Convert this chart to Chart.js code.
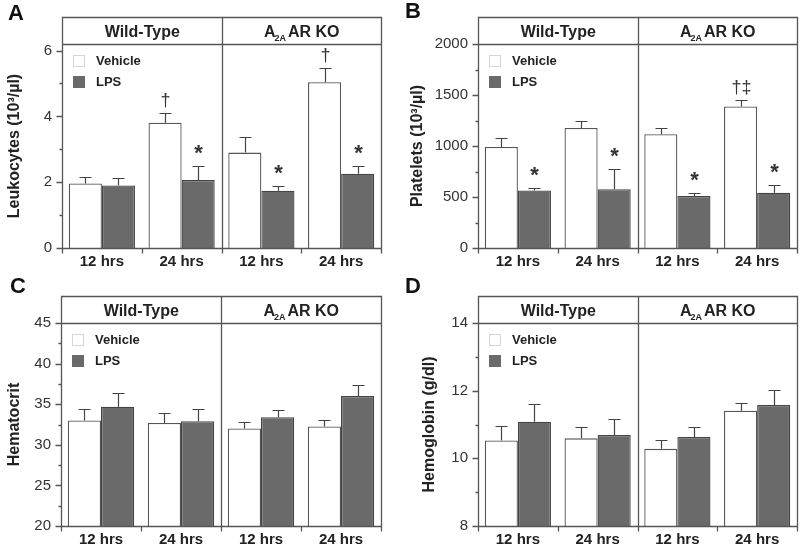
<!DOCTYPE html>
<html>
<head>
<meta charset="utf-8">
<script src="https://cdn.jsdelivr.net/npm/chart.js@4.4.1/dist/chart.umd.min.js"></script>
<style>
  body { margin: 0; background: #fff; }
  #wrap { position: relative; width: 800px; height: 546px; }
  canvas { position: absolute; }
</style>
</head>
<body>
<div id="wrap">
  <canvas id="panelA" width="400" height="273" style="left:0;top:0"></canvas>
  <canvas id="panelB" width="400" height="273" style="left:400px;top:0"></canvas>
  <canvas id="panelC" width="400" height="273" style="left:0;top:273px"></canvas>
  <canvas id="panelD" width="400" height="273" style="left:400px;top:273px"></canvas>
</div>
<script>
const groups = ["12 hrs", "24 hrs", "12 hrs", "24 hrs"];
const seriesNames = ["Vehicle", "LPS"];

// Leukocytes
const leukoVehicle = [1.96, 3.81, 2.90, 5.04];
const leukoVehicleErr = [0.21, 0.30, 0.46, 0.44];
const leukoLps = [1.90, 2.07, 1.74, 2.26];
const leukoLpsErr = [0.24, 0.41, 0.14, 0.24];
const leukoVehicleMarks = ["", "†", "", "†"];
const leukoLpsMarks = ["", "*", "*", "*"];
const leukoTicks = [0, 2, 4, 6];
const leukoMinor = [1, 3, 5];

// Platelets
const pltVehicle = [990, 1177, 1115, 1387];
const pltVehicleErr = [89, 69, 65, 65];
const pltLps = [564, 577, 511, 541];
const pltLpsErr = [29, 200, 30, 75];
const pltVehicleMarks = ["", "", "", "†‡"];
const pltLpsMarks = ["*", "*", "*", "*"];
const pltTicks = [0, 500, 1000, 1500, 2000];
const pltMinor = [250, 750, 1250, 1750];

// Hematocrit
const hctVehicle = [33.0, 32.7, 32.0, 32.25];
const hctVehicleErr = [1.4, 1.2, 0.8, 0.75];
const hctLps = [34.7, 32.9, 33.4, 36.0];
const hctLpsErr = [1.7, 1.5, 0.9, 1.4];
const hctTicks = [20, 25, 30, 35, 40, 45];
const hctMinor = [22.5, 27.5, 32.5, 37.5, 42.5];

// Hemoglobin
const hgbVehicle = [10.53, 10.59, 10.28, 11.41];
const hgbVehicleErr = [0.44, 0.34, 0.25, 0.24];
const hgbLps = [11.08, 10.69, 10.63, 11.58];
const hgbLpsErr = [0.53, 0.47, 0.30, 0.45];
const hgbTicks = [8, 10, 12, 14];
const hgbMinor = [9, 11, 13];

const noMarks = ["", "", "", ""];
const FONT = "'Liberation Sans', Arial, sans-serif";
const LINE = "#555";
const TEXT = "#222";

Chart.defaults.font.family = FONT;

function makePanel(id, cfg) {
    const panelPlugin = {
        id: "panel" + cfg.letter,
        afterDatasetsDraw(chart) {
            const ctx = chart.ctx;
            const y = chart.scales.y;
            const errs = [cfg.vehicleErr, cfg.lpsErr];
            const marks = [cfg.vehicleMarks, cfg.lpsMarks];
            ctx.save();
            ctx.strokeStyle = "#444";
            ctx.lineWidth = 1.2;
            chart.data.datasets.forEach((ds, di) => {
                chart.getDatasetMeta(di).data.forEach((bar, i) => {
                    const top = Math.round(y.getPixelForValue(ds.data[i] + errs[di][i])) + 0.5;
                    const bx = Math.round(bar.x) + 0.5;
                    ctx.beginPath();
                    ctx.moveTo(bx, bar.y);
                    ctx.lineTo(bx, top);
                    ctx.moveTo(bx - 6, top);
                    ctx.lineTo(bx + 6, top);
                    ctx.stroke();
                    const m = marks[di][i];
                    if (m) {
                        const star = m === "*";
                        ctx.font = star ? "bold 22px " + FONT : "18px " + FONT;
                        ctx.fillStyle = "#333";
                        ctx.textAlign = "center";
                        ctx.textBaseline = "alphabetic";
                        const tm = ctx.measureText(m);
                        const center = top - (star ? 17 : 13);
                        const base = center + (tm.actualBoundingBoxAscent - tm.actualBoundingBoxDescent) / 2;
                        ctx.fillText(m, bx, base);
                    }
                });
            });
            ctx.restore();
        },
        afterDraw(chart) {
            const ctx = chart.ctx;
            const a = chart.chartArea;
            const x = chart.scales.x;
            const y = chart.scales.y;
            const L = Math.round(a.left) + 0.5, R = Math.round(a.right) + 0.5;
            const T = Math.round(a.top) + 0.5, B = Math.round(a.bottom) + 0.5;
            const H = cfg.headerTop + 0.5;
            const mid = Math.round(x.getPixelForValue(1.5)) + 0.5;
            ctx.save();
            ctx.strokeStyle = LINE;
            ctx.lineWidth = 1.3;
            ctx.beginPath();
            // frame + header
            ctx.moveTo(L, B); ctx.lineTo(L, H); ctx.lineTo(R, H); ctx.lineTo(R, B);
            ctx.moveTo(L - 4, B); ctx.lineTo(R, B);
            ctx.moveTo(L, T); ctx.lineTo(R, T);
            ctx.moveTo(mid, H); ctx.lineTo(mid, B);
            // x ticks at category boundaries
            for (let i = 0; i <= groups.length; i++) {
                const px = Math.round(x.getPixelForValue(i - 0.5)) + 0.5;
                ctx.moveTo(px, B); ctx.lineTo(px, B + 5);
            }
            // y ticks
            cfg.ticks.forEach(v => {
                const py = Math.round(y.getPixelForValue(v)) + 0.5;
                ctx.moveTo(L, py); ctx.lineTo(L - 6, py);
            });
            cfg.minor.forEach(v => {
                const py = Math.round(y.getPixelForValue(v)) + 0.5;
                ctx.moveTo(L, py); ctx.lineTo(L - 3, py);
            });
            ctx.stroke();

            // header text
            const hy = (cfg.headerTop + a.top) / 2 + 6;
            ctx.fillStyle = TEXT;
            ctx.textBaseline = "alphabetic";
            ctx.textAlign = "center";
            ctx.font = "bold 16px " + FONT;
            ctx.fillText("Wild-Type", (a.left + mid) / 2, hy);
            ctx.textAlign = "left";
            const big = "bold 16px " + FONT, small = "bold 9px " + FONT;
            ctx.font = big;
            const w1 = ctx.measureText("A").width;
            const w3 = ctx.measureText("AR KO").width;
            ctx.font = small;
            const w2 = ctx.measureText("2A").width;
            let sx = (mid + a.right) / 2 - (w1 + w2 + w3 + 1) / 2;
            ctx.font = big;
            ctx.fillText("A", sx, hy);
            ctx.font = small;
            ctx.fillText("2A", sx + w1 - 1, hy + 4);
            ctx.font = big;
            ctx.fillText("AR KO", sx + w1 + w2 + 1, hy);

            // legend
            const lx = Math.round(a.left) + 11, ly = Math.round(a.top) + 11;
            ctx.fillStyle = "#fff";
            ctx.strokeStyle = "#d6d6d6";
            ctx.lineWidth = 1;
            ctx.fillRect(lx, ly, 12, 12);
            ctx.strokeRect(lx + 0.5, ly + 0.5, 11, 11);
            ctx.fillStyle = "#6a6a6a";
            ctx.fillRect(lx, ly + 21, 12, 12);
            ctx.fillStyle = TEXT;
            ctx.font = "bold 13px " + FONT;
            ctx.textBaseline = "middle";
            ctx.fillText(seriesNames[0], lx + 23, ly + 6);
            ctx.fillText(seriesNames[1], lx + 23, ly + 27);

            // panel letter
            ctx.font = "bold 22px " + FONT;
            ctx.textBaseline = "alphabetic";
            ctx.fillStyle = "#111";
            ctx.fillText(cfg.letter, cfg.letterX, cfg.letterY);
            ctx.restore();
        }
    };

    return new Chart(document.getElementById(id), {
        type: "bar",
        data: {
            labels: groups,
            datasets: [
                {
                    label: seriesNames[0],
                    data: cfg.vehicle,
                    backgroundColor: "#ffffff",
                    borderColor: "#555",
                    borderWidth: 1.3
                },
                {
                    label: seriesNames[1],
                    data: cfg.lps,
                    backgroundColor: "#6a6a6a",
                    borderColor: "#444",
                    borderWidth: 1.3
                }
            ]
        },
        options: {
            responsive: false,
            animation: false,
            layout: { padding: { left: 0, top: cfg.top, right: 400 - cfg.right, bottom: 0 } },
            datasets: { bar: { categoryPercentage: 0.83, barPercentage: 1 } },
            plugins: {
                legend: { display: false },
                tooltip: { enabled: false }
            },
            scales: {
                x: {
                    grid: { display: false, drawTicks: false },
                    border: { display: false },
                    ticks: { color: TEXT, font: { size: 15, weight: "bold" }, padding: 5 },
                    afterFit: s => { s.height = 273 - cfg.bottom; }
                },
                y: {
                    min: cfg.min,
                    max: cfg.max,
                    grid: { display: false, drawTicks: false },
                    border: { display: false },
                    afterBuildTicks: s => { s.ticks = cfg.ticks.map(v => ({ value: v })); },
                    ticks: { color: "#333", font: { size: 15 }, padding: 10, callback: v => String(v) },
                    title: {
                        display: true,
                        text: cfg.title,
                        color: TEXT,
                        font: { size: 16, weight: "bold" },
                        padding: { top: cfg.titlePad, bottom: 0 }
                    },
                    afterFit: s => { s.width = cfg.left; }
                }
            }
        },
        plugins: [panelPlugin]
    });
}

makePanel("panelA", {
    letter: "A", letterX: 8, letterY: 20,
    left: 62, right: 381, top: 44, bottom: 248, headerTop: 17, titlePad: 5,
    min: 0, max: 6.2, ticks: leukoTicks, minor: leukoMinor,
    title: "Leukocytes (10³/µl)",
    vehicle: leukoVehicle, vehicleErr: leukoVehicleErr, vehicleMarks: leukoVehicleMarks,
    lps: leukoLps, lpsErr: leukoLpsErr, lpsMarks: leukoLpsMarks
});

makePanel("panelB", {
    letter: "B", letterX: 5, letterY: 18,
    left: 78, right: 397, top: 44, bottom: 248, headerTop: 17, titlePad: 8,
    min: 0, max: 2000, ticks: pltTicks, minor: pltMinor,
    title: "Platelets (10³/µl)",
    vehicle: pltVehicle, vehicleErr: pltVehicleErr, vehicleMarks: pltVehicleMarks,
    lps: pltLps, lpsErr: pltLpsErr, lpsMarks: pltLpsMarks
});

makePanel("panelC", {
    letter: "C", letterX: 10, letterY: 20,
    left: 61, right: 381, top: 50, bottom: 253, headerTop: 23, titlePad: 5,
    min: 20, max: 45, ticks: hctTicks, minor: hctMinor,
    title: "Hematocrit",
    vehicle: hctVehicle, vehicleErr: hctVehicleErr, vehicleMarks: noMarks,
    lps: hctLps, lpsErr: hctLpsErr, lpsMarks: noMarks
});

makePanel("panelD", {
    letter: "D", letterX: 5, letterY: 20,
    left: 78, right: 397, top: 50, bottom: 253, headerTop: 23, titlePad: 20,
    min: 8, max: 14, ticks: hgbTicks, minor: hgbMinor,
    title: "Hemoglobin (g/dl)",
    vehicle: hgbVehicle, vehicleErr: hgbVehicleErr, vehicleMarks: noMarks,
    lps: hgbLps, lpsErr: hgbLpsErr, lpsMarks: noMarks
});
</script>
</body>
</html>
